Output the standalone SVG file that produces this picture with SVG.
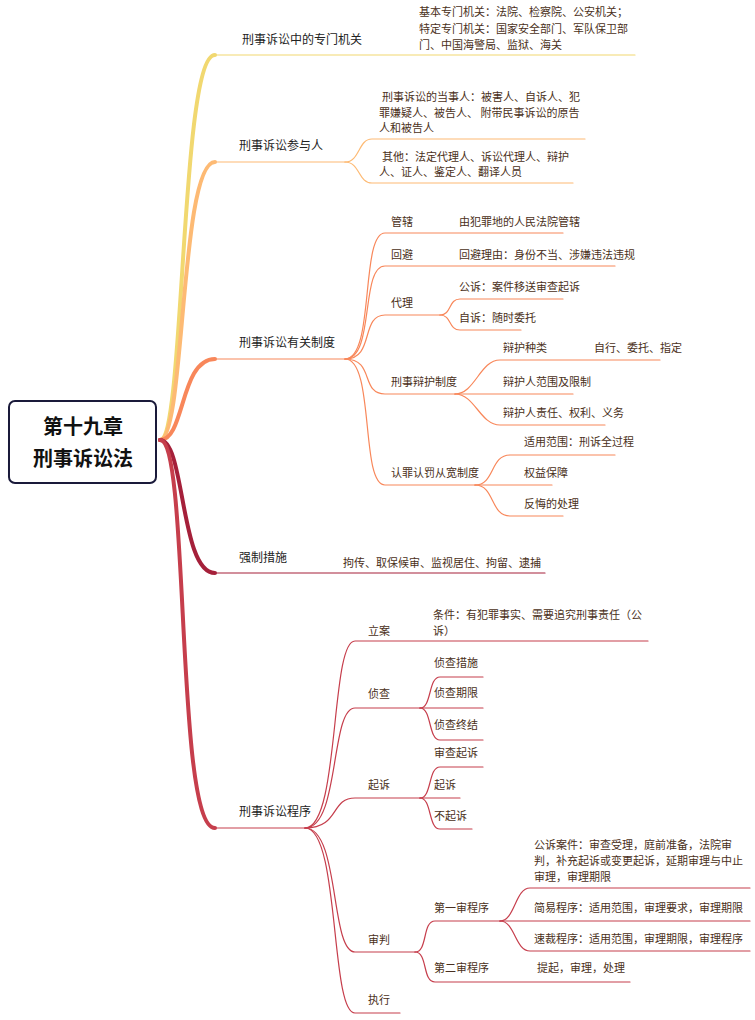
<svg xmlns="http://www.w3.org/2000/svg" width="755" height="1020" viewBox="0 0 755 1020">
<style>
text{font-family:"Noto Sans CJK SC","Noto Sans",sans-serif;font-size:11px;fill:#4a3020}
.m{font-size:12px;fill:#222}
.r{font-size:20px;font-weight:bold;fill:#111;text-anchor:middle}
path{fill:none;stroke-linecap:round}
.y{stroke:#f1d870}.lo{stroke:#fdba74}.o{stroke:#f8875a}.c{stroke:#a5203a}.rd{stroke:#c63e4c}
.t{stroke-width:4}.s{stroke-width:1.2}
</style>
<rect width="755" height="1020" fill="#fff"/>
<g id="connectors">
<path class="y t" d="M160 440 C185 440 180 55 215 55"/><path class="y s" d="M215 55 H635"/>
<path class="lo t" d="M160 440 C185 440 180 162 215 162"/><path class="lo s" d="M215 162 H345"/>
<path class="o t" d="M160 440 C185 440 180 359 215 359"/><path class="o s" d="M215 359 H345"/>
<path class="c t" d="M160 440 C185 440 180 573 215 573"/><path class="c s" d="M215 573 H545"/>
<path class="rd t" d="M160 440 C190 440 175 828 215 828"/><path class="rd s" d="M215 828 H305"/>
<g class="lo s">
<path d="M345 162 C360 162 358 139 372 139 H585"/><path d="M345 162 C360 162 358 183 372 183 H573"/>
</g>
<g class="o s">
<path d="M345 359 C375 359 360 233 385 233 H563"/>
<path d="M345 359 C375 359 360 266 385 266 H615"/>
<path d="M345 359 C375 359 360 315 385 315 H440"/>
<path d="M345 359 C375 359 360 394 385 394 H455"/>
<path d="M345 359 C375 359 360 485 385 485 H475"/>
<path d="M440 315 C452 315 448 299 460 299 H563"/><path d="M440 315 C452 315 448 330 460 330 H521"/>
<path d="M455 394 C475 394 480 360 500 360 H660"/><path d="M455 394 H573"/><path d="M455 394 C475 394 480 425 500 425 H605"/>
<path d="M475 485 C495 485 490 455 510 455 H615"/><path d="M475 485 H552"/><path d="M475 485 C495 485 490 516 510 516 H563"/>
</g>
<g class="rd s">
<path d="M305 828 C340 828 330 641 355 641 H648"/>
<path d="M305 828 C340 828 330 708 355 708 H420"/>
<path d="M305 828 C340 828 330 798 355 798 H420"/>
<path d="M305 828 C340 828 330 952 355 952 H415"/>
<path d="M305 828 C340 828 330 1013 355 1013 H400"/>
<path d="M420 708 C432 708 428 677 440 677 H483"/><path d="M420 708 H483"/><path d="M420 708 C432 708 428 740 440 740 H483"/>
<path d="M420 798 C432 798 428 767 440 767 H483"/><path d="M420 798 H460"/><path d="M420 798 C432 798 428 829 440 829 H472"/>
<path d="M415 952 C428 952 422 921 435 921 H500"/><path d="M415 952 C428 952 422 982 435 982 H630"/>
<path d="M500 921 C515 921 515 888 530 888 H750"/><path d="M500 921 H750"/><path d="M500 921 C515 921 515 951 530 951 H750"/>
</g>
</g>
<g id="root"><rect x="9" y="401" width="147" height="82" rx="6" fill="#fff" stroke="#1a1a3a" stroke-width="2"/>
<text class="r" x="83" y="434">第十九章</text><text class="r" x="83" y="466">刑事诉讼法</text></g>
<g id="n1"><text class="m" x="242" y="44">刑事诉讼中的专门机关</text>
<text x="419" y="16">基本专门机关：法院、检察院、公安机关；</text><text x="419" y="33">特定专门机关：国家安全部门、军队保卫部</text><text x="419" y="49">门、中国海警局、监狱、海关</text></g>
<g id="n2"><text class="m" x="239" y="150">刑事诉讼参与人</text>
<text x="382" y="101">刑事诉讼的当事人：被害人、自诉人、犯</text><text x="379" y="117">罪嫌疑人、被告人、 附带民事诉讼的原告</text><text x="379" y="132">人和被告人</text>
<text x="382" y="161">其他：法定代理人、诉讼代理人、辩护</text><text x="379" y="176">人、证人、鉴定人、翻译人员</text></g>
<g id="n3"><text class="m" x="239" y="347">刑事诉讼有关制度</text>
<text x="391" y="226">管辖</text><text x="459" y="226">由犯罪地的人民法院管辖</text>
<text x="391" y="259">回避</text><text x="459" y="259">回避理由：身份不当、涉嫌违法违规</text>
<text x="391" y="307">代理</text><text x="459" y="291">公诉：案件移送审查起诉</text><text x="459" y="322">自诉：随时委托</text>
<text x="391" y="386">刑事辩护制度</text><text x="503" y="352">辩护种类</text><text x="594" y="352">自行、委托、指定</text>
<text x="503" y="386">辩护人范围及限制</text><text x="503" y="417">辩护人责任、权利、义务</text>
<text x="391" y="477">认罪认罚从宽制度</text><text x="524" y="446">适用范围：刑诉全过程</text><text x="524" y="477">权益保障</text><text x="524" y="508">反悔的处理</text></g>
<g id="n4"><text class="m" x="239" y="562">强制措施</text><text x="343" y="567">拘传、取保候审、监视居住、拘留、逮捕</text></g>
<g id="n5"><text class="m" x="239" y="816">刑事诉讼程序</text>
<text x="368" y="635">立案</text><text x="433" y="619">条件：有犯罪事实、需要追究刑事责任（公</text><text x="433" y="635">诉）</text>
<text x="368" y="698">侦查</text><text x="434" y="667">侦查措施</text><text x="434" y="697">侦查期限</text><text x="434" y="729">侦查终结</text>
<text x="368" y="789">起诉</text><text x="434" y="757">审查起诉</text><text x="434" y="789">起诉</text><text x="434" y="820">不起诉</text>
<text x="368" y="944">审判</text><text x="434" y="912">第一审程序</text>
<text x="534" y="849">公诉案件：审查受理，庭前准备，法院审</text><text x="534" y="865">判，补充起诉或变更起诉，延期审理与中止</text><text x="534" y="881">审理，审理期限</text>
<text x="534" y="912">简易程序：适用范围，审理要求，审理期限</text><text x="534" y="943">速裁程序：适用范围，审理期限，审理程序</text>
<text x="434" y="972">第二审程序</text><text x="537" y="972">提起，审理，处理</text>
<text x="368" y="1004">执行</text></g>
</svg>
